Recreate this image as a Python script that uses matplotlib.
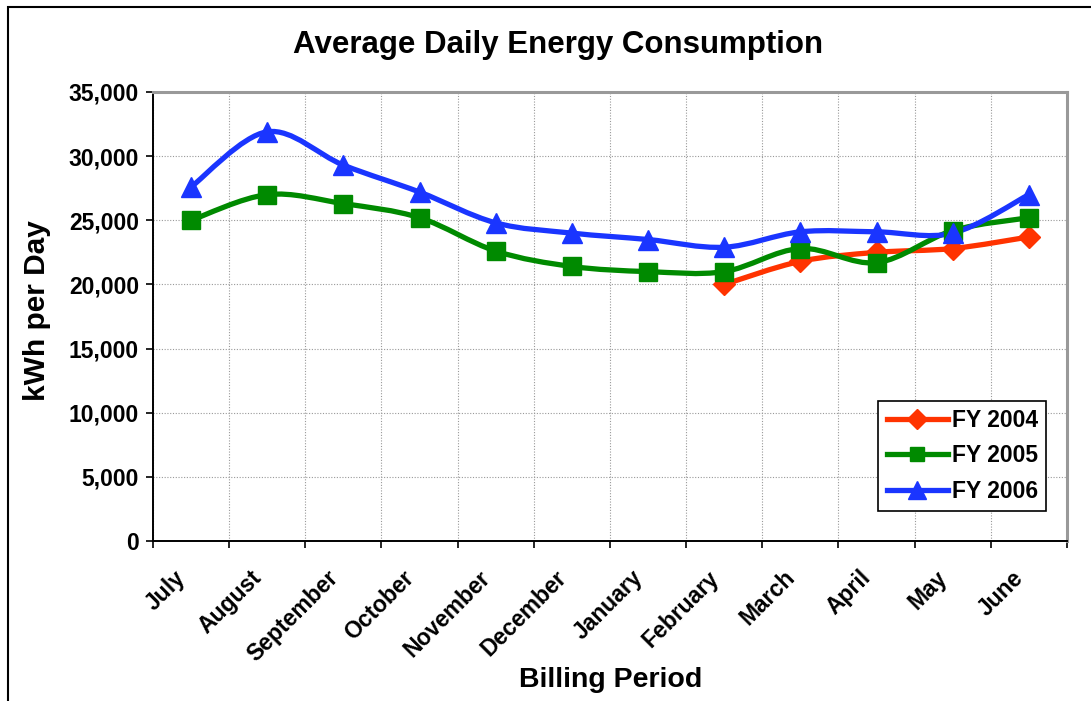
import numpy as np
import matplotlib
matplotlib.use('Agg')
import matplotlib.pyplot as plt
from matplotlib.path import Path
from matplotlib.patches import PathPatch, Rectangle
from matplotlib.lines import Line2D
from matplotlib.ticker import FuncFormatter
from matplotlib.transforms import ScaledTranslation

plt.rcParams['font.family'] = ['Liberation Sans', 'DejaVu Sans']
plt.rcParams['font.weight'] = 'bold'

months = ['July', 'August', 'September', 'October', 'November', 'December',
          'January', 'February', 'March', 'April', 'May', 'June']
fy2004 = [np.nan] * 7 + [20000, 21800, 22500, 22800, 23700]
fy2005 = [25000, 27000, 26300, 25200, 22600, 21400, 21000, 21000, 22800, 21700, 24200, 25200]
fy2006 = [27600, 31900, 29300, 27200, 24800, 24000, 23500, 22900, 24100, 24100, 24000, 27000]

series = [
    ('FY 2004', fy2004, '#FF3300', 'D', 11.5),
    ('FY 2005', fy2005, '#008A00', 's', 12.5),
    ('FY 2006', fy2006, '#1A35FF', '^', 14.5),
]


def smooth_path(x, y):
    # Catmull-Rom style bezier like Excel's smoothed line
    pts = np.column_stack([x, y])
    n = len(pts)
    verts = [pts[0]]
    codes = [Path.MOVETO]
    for i in range(n - 1):
        p0 = pts[i - 1] if i > 0 else pts[i]
        p1 = pts[i]
        p2 = pts[i + 1]
        p3 = pts[i + 2] if i + 2 < n else pts[i + 1]
        c1 = p1 + (p2 - p0) / 6.0
        c2 = p2 - (p3 - p1) / 6.0
        verts += [c1, c2, p2]
        codes += [Path.CURVE4] * 3
    return Path(verts, codes)


fig = plt.figure(figsize=(10.91, 7.01), dpi=100)
ax = fig.add_axes([153 / 1091, 1 - 541 / 701, (1067 - 153) / 1091, (541 - 92) / 701])

xc = np.arange(len(months)) + 0.5
handles = []
for name, vals, col, mk, ms in series:
    vals = np.array(vals, dtype=float)
    ok = ~np.isnan(vals)
    path = smooth_path(xc[ok], vals[ok])
    ax.add_patch(PathPatch(path, facecolor='none', edgecolor=col, lw=3.8,
                           capstyle='round', joinstyle='round', zorder=3))
    ax.plot(xc[ok], vals[ok], linestyle='none', marker=mk, ms=ms,
            color=col, mec=col, zorder=4)
    handles.append(Line2D([], [], color=col, lw=3.8, marker=mk, ms=ms * 0.85))

ax.set_xlim(0, 12)
ax.set_ylim(0, 35000)
ax.set_xticks(np.arange(13))
ax.set_xticklabels([])
ax.set_xticks(xc, minor=True)
ax.set_xticklabels(months, minor=True, rotation=45, ha='right', va='center',
                   rotation_mode='anchor', fontsize=16.5, fontweight='bold')
ax.tick_params(axis='x', which='minor', length=0, pad=24)
ax.tick_params(axis='x', which='major', direction='out', length=5, width=1.2)
shift = ScaledTranslation(-0.09, 0, fig.dpi_scale_trans)
for lab in ax.xaxis.get_minorticklabels():
    lab.set_transform(lab.get_transform() + shift)
ax.set_yticks(np.arange(0, 35001, 5000))
ax.yaxis.set_major_formatter(FuncFormatter(lambda v, p: f'{int(v):,}'))
ax.tick_params(axis='y', direction='out', length=5, width=1.2, pad=5, labelsize=16.5)
for lab in ax.get_yticklabels():
    lab.set_fontweight('bold')

ax.grid(True, which='major', color='#999999', linestyle=(0, (1, 1.5)), lw=0.8)
ax.set_axisbelow(True)
for s in ['top', 'right']:
    ax.spines[s].set_color('#999999')
    ax.spines[s].set_linewidth(2.2)
for s in ['left', 'bottom']:
    ax.spines[s].set_color('black')
    ax.spines[s].set_linewidth(1.4)

leg = ax.legend(handles, [s[0] for s in series], loc='lower right',
                bbox_to_anchor=(0.977, 0.067), borderaxespad=0, fancybox=False,
                framealpha=1, edgecolor='black', handlelength=2.7,
                borderpad=0.35, labelspacing=0.55, handletextpad=0.15,
                prop={'weight': 'bold', 'size': 16.5})
leg.get_frame().set_linewidth(1.2)

fig.text(558 / 1091, 1 - 45 / 701, 'Average Daily Energy Consumption',
         ha='center', va='center', fontsize=22.5, fontweight='bold')
fig.text(611 / 1091, 1 - 680 / 701, 'Billing Period', ha='center', va='center',
         fontsize=20.5, fontweight='bold')
fig.text(37 / 1091, 1 - 311 / 701, 'kWh per Day', ha='center', va='center',
         rotation=90, fontsize=21.5, fontweight='bold')

fig.patches.append(Rectangle((8 / 1091, -0.2), 1.2, 1.2 - 7 / 701,
                             transform=fig.transFigure, fill=False,
                             edgecolor='black', lw=1.5))

fig.savefig('out.png', dpi=100)
